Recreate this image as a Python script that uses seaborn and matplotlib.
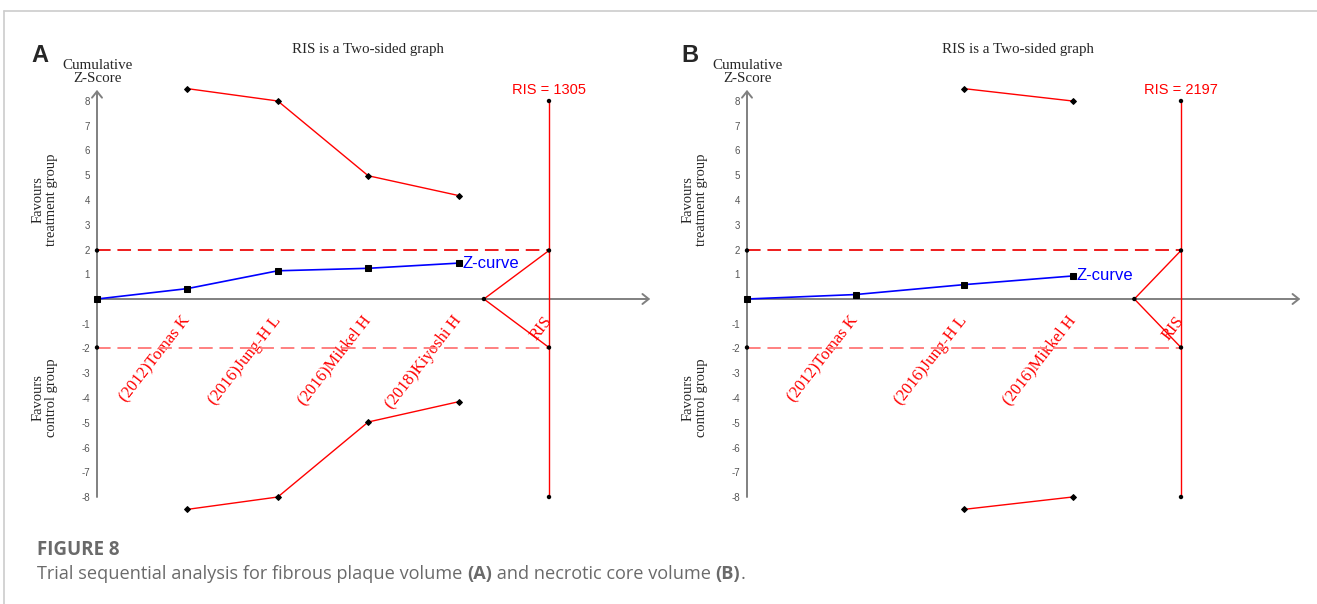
import matplotlib
matplotlib.use("Agg")
import matplotlib.pyplot as plt
import seaborn as sns
from matplotlib.lines import Line2D

# ---- data ----
labels_a = ["(2012)Tomas K", "(2016)Jung-H L", "(2016)Mikkel H", "(2018)Kiyoshi H"]
z_a = [0.0, 0.42, 1.14, 1.24, 1.45]
upper_a = [8.5, 8.0, 4.98, 4.18]
lower_a = [-8.5, -8.0, -4.97, -4.15]
ris_a = 1305

labels_b = ["(2012)Tomas K", "(2016)Jung-H L", "(2016)Mikkel H"]
z_b = [0.0, 0.18, 0.58, 0.93]
upper_b = [8.5, 8.0]      # boundary only drawn for the last two trials
lower_b = [-8.5, -8.0]
ris_b = 2197

conv = 1.96
ris_lim = 8
yticks = [-8, -7, -6, -5, -4, -3, -2, -1, 1, 2, 3, 4, 5, 6, 7, 8]

sns.set_style("white")
plt.rcParams["font.family"] = ["Liberation Serif", "DejaVu Sans"]

W, H = 1317, 604
fig = plt.figure(figsize=(W / 100, H / 100), dpi=100)


def fx(px):
    return px / W


def fy(py):
    return 1 - py / H


GRAY = "#808080"
Y0, UY = 299, 24.75


def panel(x0px, ux, x_end, wedge, labels, z, upper, lower, ris, letter):
    n = len(labels)
    lo, hi = -0.3, x_end + 0.3
    ax = fig.add_axes([fx(x0px + lo * ux), fy(Y0 + 9 * UY), (hi - lo) * ux / W, 18 * UY / H])
    ax.set_xlim(lo, hi)
    ax.set_ylim(-9, 9)
    ax.patch.set_alpha(0)
    for s in ax.spines.values():
        s.set_visible(False)
    ax.spines["bottom"].set_position(("data", 0))
    ax.spines["left"].set_position(("data", 0))

    ris_x = n + 1
    xs = list(range(n + 1))

    # axes with open arrow heads
    arr = dict(arrowstyle="->,head_length=0.45,head_width=0.36", color=GRAY, lw=1.4,
               shrinkA=0, shrinkB=0)
    ax.annotate("", xy=(x_end, 0), xytext=(0, 0), arrowprops=arr, zorder=1)
    ax.annotate("", xy=(0, 8.45), xytext=(0, -ris_lim), arrowprops=arr, zorder=1)

    # conventional boundaries
    ax.hlines(conv, 0, ris_x, colors="#ee1c1c", linestyles=(0, (7, 3.5)), lw=1.4, zorder=2)
    ax.hlines(-conv, 0, ris_x, colors="#ff8080", linestyles=(0, (7, 3.5)), lw=1.4, zorder=2)

    # RIS line and wedge
    ax.vlines(ris_x, -ris_lim, ris_lim, colors="red", lw=1, zorder=2)
    sns.lineplot(x=[ris_x, wedge, ris_x], y=[conv, 0, -conv], sort=False, estimator=None,
                 color="red", lw=1, ax=ax, zorder=2)
    sns.scatterplot(x=[0, 0, ris_x, ris_x, ris_x, ris_x, wedge],
                    y=[conv, -conv, ris_lim, conv, -conv, -ris_lim, 0],
                    color="black", s=10, edgecolor="none", ax=ax, zorder=4)

    # monitoring boundaries
    bx = list(range(n - len(upper) + 1, n + 1))
    for b in (upper, lower):
        sns.lineplot(x=bx, y=b, sort=False, estimator=None, color="red", lw=1,
                     marker="D", ms=3, mfc="black", mec="black", ax=ax, zorder=3)

    # Z-curve
    sns.lineplot(x=xs, y=z, sort=False, estimator=None, color="blue", lw=1.2,
                 marker="s", ms=5, mfc="black", mec="black", ax=ax, zorder=5)
    ax.annotate("Z-curve", xy=(n, z[-1]), xytext=(3, 0), textcoords="offset points",
                va="center", ha="left", color="blue", family="Liberation Sans", fontsize=12)
    ax.annotate(f"RIS = {ris}", xy=(ris_x, ris_lim), xytext=(0, 3), textcoords="offset points",
                va="bottom", ha="center", color="red", family="Liberation Sans", fontsize=10.5)

    ax.set_xticks(list(range(1, n + 1)) + [ris_x])
    ax.set_xticklabels(labels + ["RIS"], rotation=52, ha="right", va="center",
                       rotation_mode="anchor", color="red", fontsize=12)
    ax.tick_params(axis="x", direction="out", length=3.6, width=1, color=GRAY, pad=10)
    ax.set_yticks(yticks)
    ax.set_yticklabels([str(v) for v in yticks], family="Liberation Sans")
    ax.tick_params(axis="y", direction="out", length=3.6, width=1, color=GRAY, pad=1.5,
                   labelsize=7, labelcolor="#555555")

    # surrounding texts
    fig.text(fx(x0px + 271), fy(50), "RIS is a Two-sided graph", ha="center", va="center",
             fontsize=10.8)
    fig.text(fx(x0px + 1), fy(72), "Cumulative\nZ-Score", ha="center", va="center",
             fontsize=10.8, linespacing=1.05)
    fig.text(fx(x0px - 52), fy(200), "Favours\ntreatment group", ha="center", va="center",
             rotation=90, fontsize=10.5, linespacing=1.05)
    fig.text(fx(x0px - 52), fy(398), "Favours\ncontrol group", ha="center", va="center",
             rotation=90, fontsize=10.5, linespacing=1.05)
    fig.text(fx(x0px - 57), fy(55), letter, ha="center", va="center", fontsize=17,
             weight="bold", family="Liberation Sans")
    return ax


panel(97, 90.4, 6.12, 4.28, labels_a, z_a, upper_a, lower_a, ris_a, "A")
panel(747, 108.5, 5.1, 3.57, labels_b, z_b, upper_b, lower_b, ris_b, "B")

# frame of the figure page
fig.add_artist(Line2D([fx(4), 1], [fy(11), fy(11)], color="#cccccc", lw=1.2))
fig.add_artist(Line2D([fx(4), fx(4)], [fy(11), 0], color="#cccccc", lw=1.2))

# caption
cap_kw = dict(family="Open Sans", color="#6a6a6a", va="center", ha="left")
fig.text(fx(37), fy(550), "FIGURE 8", fontsize=13.5, weight="bold", **cap_kw)

renderer = fig.canvas.get_renderer()
parts = [("Trial sequential analysis for fibrous plaque volume ", "normal"), ("(A)", "bold"),
         (" and necrotic core volume ", "normal"), ("(B)", "bold"), (".", "normal")]
cap_size = 13.1
x = fx(37)
for s, w in parts:
    t = fig.text(x, fy(574), s, fontsize=cap_size, weight=w, **cap_kw)
    probe = fig.text(0, 0, s + "|", fontsize=cap_size, weight=w, family="Open Sans")
    bar = fig.text(0, 0, "|", fontsize=cap_size, weight=w, family="Open Sans")
    width = probe.get_window_extent(renderer).width - bar.get_window_extent(renderer).width
    probe.remove()
    bar.remove()
    x += width / W

fig.savefig("out.png", dpi=100)
